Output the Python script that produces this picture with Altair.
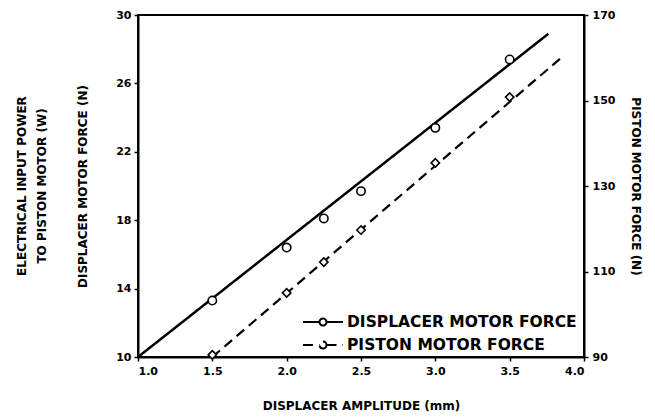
import altair as alt
import pandas as pd

# ---- data ----
amplitude = [1.5, 2.0, 2.25, 2.5, 3.0, 3.5]
displacer_force = [13.3, 16.4, 18.1, 19.7, 23.4, 27.4]
piston_force = [90.5, 105.0, 112.2, 119.7, 135.4, 150.8]

displacer_fit_x = [1.0, 3.76]
displacer_fit_y = [10.0, 28.9]
piston_fit_x = [1.5, 3.86]
piston_fit_y = [90.0, 160.4]

series = ["DISPLACER MOTOR FORCE", "PISTON MOTOR FORCE"]
x_ticks = [1.0, 1.5, 2.0, 2.5, 3.0, 3.5, 4.0]
left_ticks = [10, 14, 18, 22, 26, 30]
right_ticks = [90, 110, 130, 150, 170]
power_title = ["ELECTRICAL INPUT POWER", "TO PISTON MOTOR (W)"]

FONT = "DejaVu Sans"
# legend symbol: a line broken by a small open circle
LEGEND_SYMBOL = "M-2,0H-0.35M0.35,0H2M0.35,0A0.35,0.35,0,1,1,-0.35,0A0.35,0.35,0,1,1,0.35,0"

disp_pts = pd.DataFrame({"amp": amplitude, "force": displacer_force, "series": series[0]})
pist_pts = pd.DataFrame({"amp": amplitude, "force": piston_force, "series": series[1]})
disp_fit = pd.DataFrame({"amp": displacer_fit_x, "force": displacer_fit_y, "series": series[0]})
pist_fit = pd.DataFrame({"amp": piston_fit_x, "force": piston_fit_y, "series": series[1]})

x_enc = alt.X(
    "amp:Q",
    scale=alt.Scale(domain=[1.0, 4.0], nice=False),
    axis=alt.Axis(values=x_ticks, format=".1f", title="DISPLACER AMPLITUDE (mm)",
                  titlePadding=24, tickSize=4, labelPadding=4),
)

dash = alt.StrokeDash(
    "series:N",
    scale=alt.Scale(domain=series, range=[[1, 0], [10, 6]]),
    legend=alt.Legend(
        title=None, orient="none", legendX=174, legendY=296,
        symbolType=LEGEND_SYMBOL, symbolSize=400, symbolStrokeWidth=2,
        symbolStrokeColor="black", symbolFillColor="white",
        labelFontSize=15.5, labelFont=FONT,
        labelFontWeight="bold", labelColor="black", rowPadding=3,
        labelOffset=13, labelLimit=0,
    ),
)

y_left = alt.Y(
    "force:Q",
    scale=alt.Scale(domain=[10, 30], nice=False),
    axis=alt.Axis(
        values=left_ticks, orient="left", title="DISPLACER MOTOR FORCE (N)",
        titlePadding=26, tickSize=4, labelPadding=3,
    ),
)
y_right = alt.Y(
    "force:Q",
    scale=alt.Scale(domain=[90, 170], nice=False),
    axis=alt.Axis(
        values=right_ticks, orient="right", title="PISTON MOTOR FORCE (N)",
        titlePadding=14, tickSize=4, labelPadding=4,
    ),
)

left = alt.layer(
    alt.Chart(disp_fit).mark_line(color="black", strokeWidth=2.5).encode(x=x_enc, y=y_left, strokeDash=dash),
    alt.Chart(disp_pts).mark_point(shape="circle", filled=True, fill="white", stroke="black",
                                   strokeWidth=1.6, size=70, opacity=1).encode(x=x_enc, y=y_left),
)
right = alt.layer(
    alt.Chart(pist_fit).mark_line(color="black", strokeWidth=2.2).encode(x=x_enc, y=y_right, strokeDash=dash),
    alt.Chart(pist_pts).mark_point(shape="diamond", filled=True, fill="white", stroke="black",
                                   strokeWidth=1.6, size=70, opacity=1).encode(x=x_enc, y=y_right),
)

chart = (
    alt.layer(left, right)
    .resolve_scale(y="independent")
    .properties(
        width=446, height=342,
        padding={"left": 7, "top": 1, "right": 5, "bottom": 5},
        background="white",
        title=alt.TitleParams(
            text=power_title, orient="left", anchor="middle", font=FONT,
            fontWeight="bold", fontSize=12, lineHeight=20, color="black", offset=28,
        ),
    )
    .configure_view(stroke="black", strokeWidth=2)
    .configure_axis(
        grid=False, domainColor="black", domainWidth=2, tickColor="black", tickWidth=1.5,
        labelFont=FONT, labelFontWeight="bold", labelFontSize=11, labelColor="black",
        titleFont=FONT, titleFontWeight="bold", titleFontSize=12, titleColor="black",
    )
)

chart.save("out.html", embed_options={"renderer": "svg", "actions": False})
